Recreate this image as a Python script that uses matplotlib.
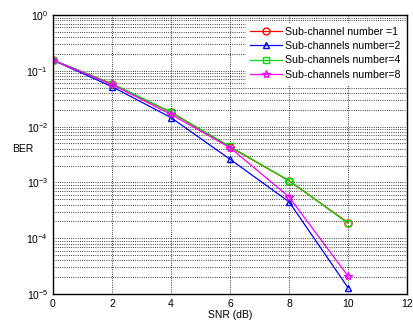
import matplotlib
matplotlib.use("Agg")
import matplotlib.pyplot as plt
from matplotlib.ticker import LogLocator, NullFormatter

plt.rcParams['font.family'] = ['Liberation Sans', 'DejaVu Sans']

snr = [0, 2, 4, 6, 8, 10]
ber1 = [0.155, 0.058, 0.018, 0.0043, 0.00107, 0.00019]
ber2 = [0.155, 0.052, 0.0145, 0.0026, 0.00045, 0.000013]
ber4 = [0.157, 0.059, 0.0182, 0.0044, 0.00108, 0.000185]
ber8 = [0.155, 0.057, 0.0165, 0.0042, 0.00055, 0.000021]
labels = ['Sub-channel number =1', 'Sub-channels number=2',
          'Sub-channels number=4', 'Sub-channels number=8']

fig = plt.figure(figsize=(4.14, 3.25), dpi=100)
ax = fig.add_axes([53/414, 1-294/325, 354/414, 279/325])

ax.semilogy(snr, ber1, color='red', marker='o', mfc='none', ms=5, lw=0.9, label=labels[0])
ax.semilogy(snr, ber2, color='blue', marker='^', mfc='none', ms=5, lw=0.9, label=labels[1])
ax.semilogy(snr, ber4, color='#00dd00', marker='s', mfc='none', ms=5, lw=0.9, label=labels[2])
ax.semilogy(snr, ber8, color='magenta', marker='*', mfc='none', ms=6, lw=0.9, label=labels[3])

ax.set_xlim(0, 12)
ax.set_ylim(1e-5, 1)
ax.set_xticks([0, 2, 4, 6, 8, 10, 12])
ax.yaxis.set_major_locator(LogLocator(base=10, numticks=10))
ax.yaxis.set_minor_locator(LogLocator(base=10, subs=range(2, 10), numticks=20))
ax.yaxis.set_minor_formatter(NullFormatter())
ax.grid(True, which='major', color='black', linestyle=':', lw=0.6)
ax.grid(True, which='minor', axis='y', color='black', linestyle=':', lw=0.6)
ax.tick_params(which='both', direction='in', labelsize=7.5, length=0)
for s in ax.spines.values():
    s.set_linewidth(1.0)

ax.set_xlabel('SNR (dB)', fontsize=7.5, labelpad=1)
ax.set_ylabel('BER', fontsize=7.5, rotation=0)
ax.yaxis.set_label_coords(-0.085, 0.5)

leg = ax.legend(loc='upper right', bbox_to_anchor=(1.0, 0.98), fontsize=7.6,
                frameon=True, fancybox=False,
                borderaxespad=0.2, handlelength=3, handletextpad=0.3,
                labelspacing=0.4, borderpad=0.4)
leg.get_frame().set_edgecolor('white')
leg.get_frame().set_alpha(1)

fig.savefig('out.png', dpi=100)
